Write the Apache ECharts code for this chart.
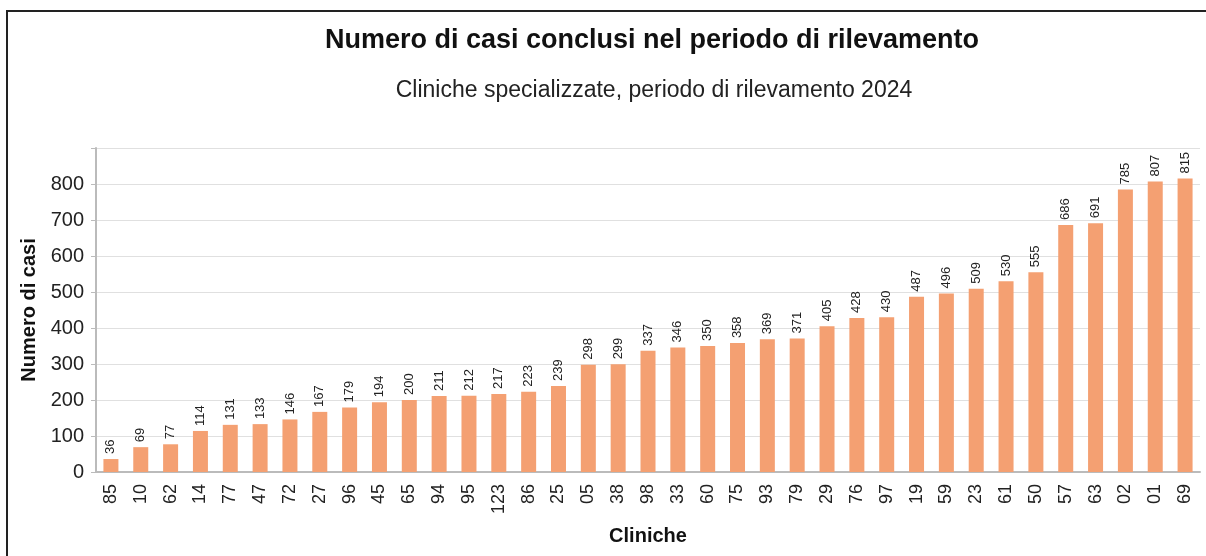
<!DOCTYPE html>
<html>
<head>
<meta charset="utf-8">
<script src="https://cdn.jsdelivr.net/npm/echarts@6/dist/echarts.min.js"></script>
<style>
  html, body { margin: 0; padding: 0; background: #fff; }
  #chart { width: 1206px; height: 556px; }
</style>
</head>
<body>
<div id="chart"></div>
<script>
// Clinic codes, sorted by number of cases
const cliniche = ['85', '10', '62', '14', '77', '47', '72', '27', '96', '45', '65', '94', '95',
  '123', '86', '25', '05', '38', '98', '33', '60', '75', '93', '79', '29', '76', '97', '19',
  '59', '23', '61', '50', '57', '63', '02', '01', '69'];
const casiConclusi = [36, 69, 77, 114, 131, 133, 146, 167, 179, 194, 200, 211, 212,
  217, 223, 239, 298, 299, 337, 346, 350, 358, 369, 371, 405, 428, 430, 487,
  496, 509, 530, 555, 686, 691, 785, 807, 815];

const font = 'Liberation Sans, Arial, sans-serif';
const chart = echarts.init(document.getElementById('chart'));

chart.setOption({
  animation: false,
  textStyle: { fontFamily: font },
  title: [
    {
      text: 'Numero di casi conclusi nel periodo di rilevamento',
      left: 647, top: 22, textAlign: 'center',
      textStyle: { fontSize: 27, fontWeight: 'bold', color: '#111', fontFamily: font },
    },
    {
      text: 'Cliniche specializzate, periodo di rilevamento 2024',
      left: 649, top: 74, textAlign: 'center',
      textStyle: { fontSize: 23, fontWeight: 'normal', color: '#222', fontFamily: font },
    },
  ],
  graphic: [
    {
      type: 'rect',
      shape: { x: 7, y: 11, width: 1220, height: 570 },
      style: { fill: 'none', stroke: '#222', lineWidth: 2 },
      silent: true,
    },
  ],
  grid: { left: 96, right: 6, top: 148, bottom: 84 },
  xAxis: {
    type: 'category',
    data: cliniche,
    name: 'Cliniche',
    nameLocation: 'middle',
    nameGap: 54,
    nameTextStyle: { fontSize: 20, fontWeight: 'bold', color: '#111' },
    axisLine: { lineStyle: { color: '#bbb', width: 2 } },
    axisTick: { alignWithLabel: true, length: 5, lineStyle: { color: '#bbb' } },
    axisLabel: { rotate: 90, fontSize: 18, color: '#222', margin: 12 },
  },
  yAxis: {
    type: 'value',
    min: 0,
    max: 900,
    interval: 100,
    name: 'Numero di casi',
    nameLocation: 'middle',
    nameGap: 57,
    nameTextStyle: { fontSize: 20, fontWeight: 'bold', color: '#111' },
    axisLine: { show: true, lineStyle: { color: '#bbb', width: 2 } },
    axisTick: { show: true, length: 5, lineStyle: { color: '#bbb' } },
    axisLabel: {
      fontSize: 20, color: '#222', margin: 12,
      formatter: v => (v > 800 ? '' : String(v)),
    },
    splitLine: { lineStyle: { color: '#e0e0e0', width: 1 } },
  },
  series: [
    {
      type: 'bar',
      data: casiConclusi,
      barWidth: 15,
      itemStyle: { color: '#f4a072' },
      label: {
        show: true,
        position: 'top',
        rotate: 90,
        align: 'left',
        verticalAlign: 'middle',
        distance: 5,
        fontSize: 13,
        color: '#222',
      },
    },
  ],
});
</script>
</body>
</html>
